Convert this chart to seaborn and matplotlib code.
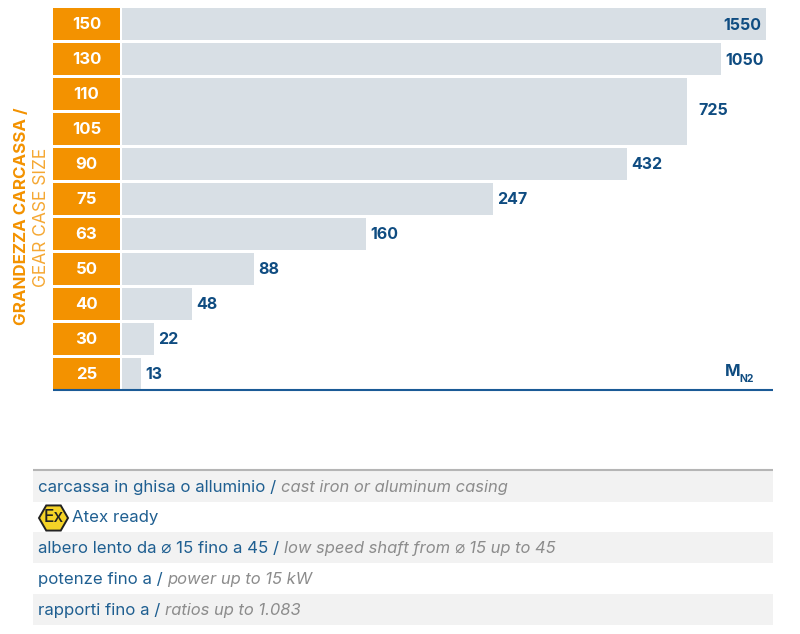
import numpy as np
import matplotlib
matplotlib.use("Agg")
import matplotlib.pyplot as plt
from matplotlib.patches import RegularPolygon
import seaborn as sns

# Chart data
sizes = ["150", "130", "110", "105", "90", "75", "63", "50", "40", "30", "25"]
torque = [1550, 1050, 725, 725, 432, 247, 160, 88, 48, 22, 13]

# The value axis of the original is not linear: value -> share of the axis
scale_values = [0, 48, 160, 247, 432, 725, 1050, 1550]
scale_share = [0, 0.1094, 0.3794, 0.5764, 0.7843, 0.8774, 0.9302, 1]

rows_it = ["carcassa in ghisa o alluminio / ", "Atex ready",
           "albero lento da \u2300 15 fino a 45 / ", "potenze fino a / ",
           "rapporti fino a / "]
rows_en = ["cast iron or aluminum casing", "",
           "low speed shaft from \u2300 15 up to 45", "power up to 15 kW",
           "ratios up to 1.083"]

ORANGE = "#f39200"
GREY = "#d8dfe5"
BLUE = "#0f4c81"
FONT = ["Inter", "DejaVu Sans"]
W, H = 800, 634

sns.set_theme(style="white")
plt.rcParams["font.family"] = FONT

fig = plt.figure(figsize=(W / 100, H / 100), dpi=100)


def px_axes(x0, y0, x1, y1):
    # axes from pixel box, y counted from the top
    return fig.add_axes([x0 / W, 1 - y1 / H, (x1 - x0) / W, (y1 - y0) / H])


############################################
# Bars
############################################

ax = px_axes(121.5, 6.6, 766, 391.4)
ax.set_xscale("function", functions=(
    lambda v: np.interp(v, scale_values, scale_share),
    lambda s: np.interp(s, scale_share, scale_values)))
sns.barplot(x=torque, y=sizes, color=GREY, saturation=1, width=0.92,
            linewidth=0, ax=ax)
# 110 and 105 share one block
ax.barh(2.5, 725, height=0.2, color=GREY, linewidth=0)
ax.set_xlim(0, 1550)
ax.set_ylim(10.5, -0.5)
ax.axis("off")

for i, v in enumerate(torque):
    if sizes[i] == "105":
        continue
    y = i
    dx = 3.2
    ha = "left"
    if sizes[i] == "110":
        y = 2.44
        dx = 8
    if v == max(torque):
        dx = -3.6
        ha = "right"
    ax.annotate(str(v), (v, y), xytext=(dx, -0.7), textcoords="offset points",
                ha=ha, va="center", color=BLUE, fontsize=11.5, fontweight="bold")

############################################
# Orange size column
############################################

ax2 = px_axes(53, 6.6, 120, 391.4)
sns.barplot(x=[1] * len(sizes), y=sizes, color=ORANGE, saturation=1,
            width=0.92, linewidth=0, ax=ax2)
ax2.set_xlim(0, 1)
ax2.set_ylim(10.5, -0.5)
ax2.axis("off")
for i, s in enumerate(sizes):
    ax2.annotate(s, (0.5, i), xytext=(0, -0.4), textcoords="offset points",
                 ha="center", va="center", color="white",
                 fontsize=12, fontweight="bold")

############################################
# Everything else, in pixel coordinates
############################################

bg = fig.add_axes([0, 0, 1, 1], zorder=5)
bg.set_xlim(0, W)
bg.set_ylim(H, 0)
bg.axis("off")
bg.patch.set_alpha(0)

bg.plot([53, 773], [389.5, 389.5], color="#1a5a96", lw=1.5, solid_capstyle="butt")

bg.text(22, 216.5, "GRANDEZZA CARCASSA /", rotation=90, ha="center", va="center",
        color=ORANGE, fontsize=12.2, fontweight="bold")
bg.text(41, 217, "GEAR CASE SIZE", rotation=90, ha="center", va="center",
        color=ORANGE, fontsize=12.5, alpha=0.8)

bg.text(725, 372, "M", ha="left", va="center", color=BLUE, fontsize=12, fontweight="bold")
bg.text(739.5, 379, "N2", ha="left", va="center", color=BLUE, fontsize=7.5, fontweight="bold")

# Table under the chart
row_top = [471, 501, 532, 563, 594]
row_h = 31
bg.plot([33, 773], [470, 470], color="#b5b5b5", lw=1.5, solid_capstyle="butt")
renderer = fig.canvas.get_renderer()
for i, (it, en) in enumerate(zip(rows_it, rows_en)):
    if i % 2 == 0:
        bg.fill_between([33, 773], row_top[i], row_top[i] + row_h, color="#f2f2f2", lw=0)
    x = 72 if it == "Atex ready" else 38
    t = bg.text(x, row_top[i] + row_h / 2 + 1.2, it, ha="left", va="center",
                color="#1f5f91", fontsize=12.15)
    if en:
        ext = t.get_window_extent(renderer)
        bg.text(ext.x1, row_top[i] + row_h / 2 + 1.2, en, ha="left", va="center",
                color="#8c8c8c", fontsize=11.9, style="italic")

# Atex badge
bg.add_patch(RegularPolygon((53.5, 518), 6, radius=14.5, orientation=np.pi / 2,
                            facecolor="#f5d327", edgecolor="#222222", lw=1.4))
bg.text(53.5, 518, "Ex", ha="center", va="center", color="#222222", fontsize=12.5,
        fontweight="medium")

fig.savefig("out.png", dpi=100)
